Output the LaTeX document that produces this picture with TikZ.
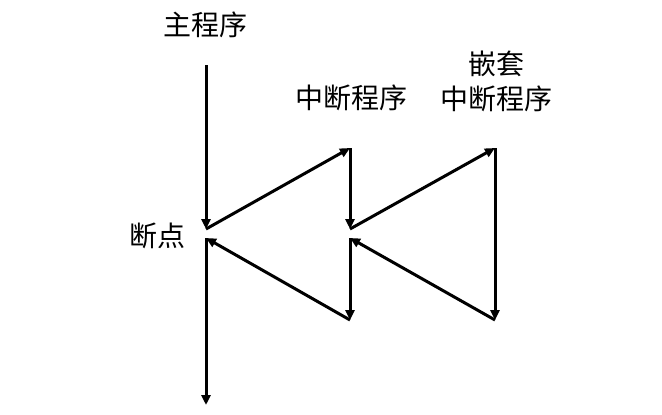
\documentclass[tikz,border=0pt]{standalone}
\usepackage{fontspec}
\newfontfamily\cjk{Noto Sans CJK SC}
\usetikzlibrary{arrows.meta}

\begin{document}
\begin{tikzpicture}[
    x=1pt, y=-1pt,
    flow/.style={-{Triangle[length=10pt,width=9pt]}, line width=3pt},
    lbl/.style={font=\cjk\fontsize{28}{35}\selectfont, align=center, inner sep=0pt},
]
\useasboundingbox (0,0) rectangle (662,415);

% labels
\node[lbl] (main) at (205,25) {主程序};
\node[lbl] (isr) at (351,98) {中断程序};
\node[lbl] (nest) at (496,81) {嵌套\\中断程序};
\node[lbl] (bp) at (157,236) {断点};

% main program
\coordinate (mtop) at (206,65);
\coordinate (mbp) at (206,229);
\coordinate (mret) at (206,238);
\coordinate (mend) at (206,405);

% interrupt routine
\coordinate (itop) at (350,148);
\coordinate (ibp) at (350,229);
\coordinate (iret) at (350,238);
\coordinate (ibot) at (350,320);

% nested interrupt routine
\coordinate (ntop) at (495,148);
\coordinate (nbot) at (495,320);

\draw[flow] (mtop) -- (mbp);
\draw[flow] (mbp) -- (itop);
\draw[flow] (itop) -- (ibp);
\draw[flow] (ibp) -- (ntop);
\draw[flow] (ntop) -- (nbot);
\draw[flow] (nbot) -- (iret);
\draw[flow] (iret) -- (ibot);
\draw[flow] (ibot) -- (mret);
\draw[flow] (mret) -- (mend);

\end{tikzpicture}
\end{document}
